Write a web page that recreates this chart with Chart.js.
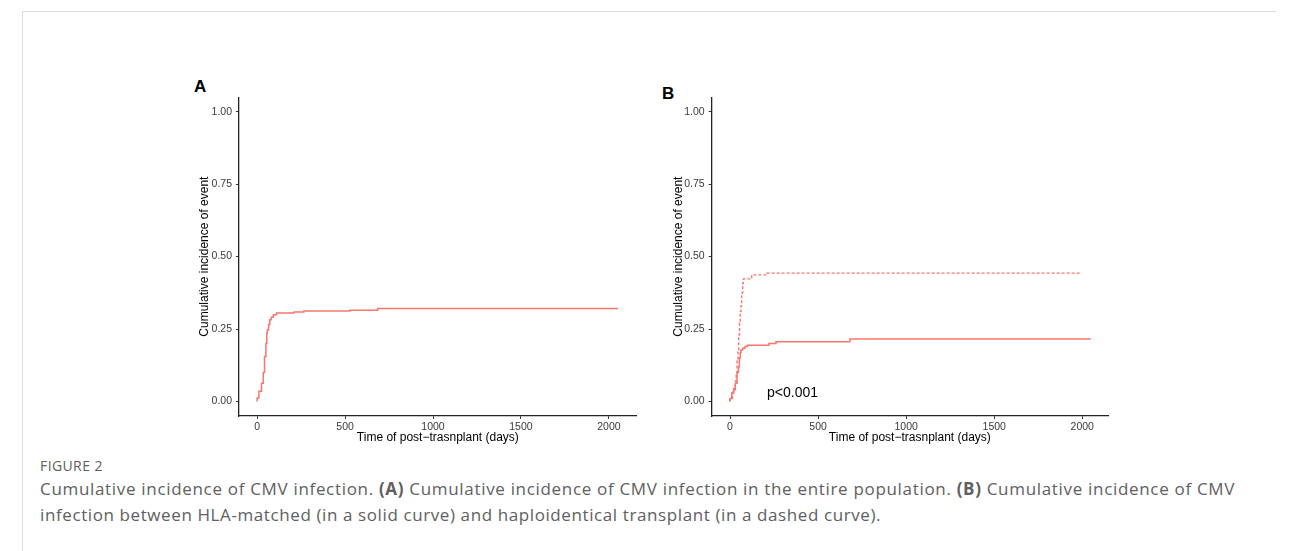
<!DOCTYPE html>
<html><head><meta charset="utf-8">
<script src="https://cdn.jsdelivr.net/npm/chart.js@4.4.0/dist/chart.umd.min.js"></script>
<style>
body{margin:0;width:1292px;height:551px;background:#fff;position:relative;overflow:hidden;font-family:"Liberation Sans",Arial,sans-serif;}
.box{position:absolute;}
.plbl{position:absolute;font-weight:bold;font-size:17px;color:#000;line-height:1;}
.cap{position:absolute;left:40px;font-family:"Open Sans",sans-serif;color:#606060;white-space:nowrap;}
</style></head><body>
<div style="position:absolute;left:22px;top:11px;width:1254px;height:1px;background:#dcdcdc"></div>
<div style="position:absolute;left:22px;top:11px;width:1px;height:540px;background:#dcdcdc"></div>
<div class="plbl" style="left:194px;top:78px">A</div>
<div class="plbl" style="left:662px;top:85px">B</div>
<div class="box" style="left:180px;top:70px;width:470px;height:380px"><canvas id="cA" width="470" height="380"></canvas></div>
<div class="box" style="left:652px;top:70px;width:470px;height:380px"><canvas id="cB" width="470" height="380"></canvas></div>
<div style="position:absolute;left:767px;top:385px;font-size:14px;color:#000;line-height:1">p&lt;0.001</div>
<div class="cap" style="top:456px;font-size:14px;letter-spacing:0.4px">FIGURE 2</div>
<div class="cap" style="top:477px;font-size:17px;letter-spacing:0.68px">Cumulative incidence of CMV infection. <b>(A)</b> Cumulative incidence of CMV infection in the entire population. <b>(B)</b> Cumulative incidence of CMV</div>
<div class="cap" style="top:503px;font-size:17px;letter-spacing:0.6px">infection between HLA-matched (in a solid curve) and haploidentical transplant (in a dashed curve).</div>
<script>
// ---- data ----
const xTicks = [0, 500, 1000, 1500, 2000];
const yTicks = [0, 0.25, 0.5, 0.75, 1.0];
const xTitle = "Time of post\u2212trasnplant (days)";
const yTitle = "Cumulative incidence of event";

// Panel A: entire population
const timesAll = [0, 10, 25, 35, 42, 50, 55, 58, 65, 72, 80, 92, 110, 210, 266, 527, 685, 1410, 2052];
const incAll   = [0, 0.012, 0.035, 0.063, 0.10, 0.155, 0.20, 0.236, 0.247, 0.265, 0.282, 0.291, 0.299, 0.305, 0.309, 0.312, 0.315, 0.321, 0.321];

// Panel B: HLA-matched (solid)
const timesMatched = [0, 10, 21, 30, 40, 48, 53, 58, 62, 72, 85, 98, 221, 261, 681, 1406, 2048];
const incMatched   = [0, 0.01, 0.029, 0.045, 0.063, 0.10, 0.12, 0.15, 0.167, 0.178, 0.184, 0.19, 0.194, 0.20, 0.206, 0.216, 0.216];

// Panel B: haploidentical (dashed)
const timesHaplo = [0, 15, 30, 35, 40, 45, 49, 54, 58, 62, 66, 72, 76, 123, 208, 520, 1990];
const incHaplo   = [0, 0.012, 0.04, 0.07, 0.098, 0.14, 0.178, 0.23, 0.27, 0.31, 0.33, 0.374, 0.408, 0.423, 0.437, 0.443, 0.443];

const lineColor = '#F8766D';
Chart.defaults.font.family = '"Liberation Sans", Arial, sans-serif';

function pts(t, v){ return t.map((x,i)=>({x:x, y:v[i]})); }

function makeChart(id, datasets, xmin, xmax, yAxisW, padR, yTitlePad){
  return new Chart(document.getElementById(id), {
    type: 'line',
    data: { datasets: datasets },
    options: {
      responsive: false, animation: false,
      layout: { padding: { left: 0, right: padR, top: 27.2, bottom: 0 } },
      plugins: { legend: { display: false }, tooltip: { enabled: false } },
      elements: { point: { radius: 0 } },
      scales: {
        x: {
          type: 'linear', min: xmin, max: xmax,
          afterFit: s => { s.height = 34; },
          afterBuildTicks: s => { s.ticks = xTicks.map(v => ({ value: v })); },
          ticks: { font: { size: 10.5 }, color: '#3a3a3a', padding: 1.5, maxRotation: 0, callback: v => String(v) },
          grid: { display: true, drawOnChartArea: false, drawTicks: true, tickLength: 3, color: '#333' },
          border: { display: true, color: '#222', width: 1.3 },
          title: { display: true, text: xTitle, color: '#000', font: { size: 12 }, padding: { top: 0, bottom: 5.5 } }
        },
        y: {
          type: 'linear', min: -0.05, max: 1.05,
          afterFit: s => { s.width = yAxisW; },
          afterBuildTicks: s => { s.ticks = yTicks.map(v => ({ value: v })); },
          ticks: { font: { size: 10.5 }, color: '#3a3a3a', padding: 4, callback: v => Number(v).toFixed(2) },
          grid: { display: true, drawOnChartArea: false, drawTicks: true, tickLength: 3, color: '#333' },
          border: { display: true, color: '#222', width: 1.3 },
          title: { display: true, text: yTitle, color: '#000', font: { size: 12 }, padding: { top: yTitlePad, bottom: 0 } }
        }
      }
    }
  });
}

makeChart('cA', [
  { data: pts(timesAll, incAll), borderColor: lineColor, borderWidth: 1.5, stepped: 'after', fill: false }
], -103, 2158, 59, 13.3, 17.8);

makeChart('cB', [
  { data: pts(timesHaplo, incHaplo), borderColor: lineColor, borderWidth: 1.4, borderDash: [3, 2], stepped: 'after', fill: false },
  { data: pts(timesMatched, incMatched), borderColor: lineColor, borderWidth: 1.5, stepped: 'after', fill: false }
], -104, 2146, 59.7, 14, 19.8);
</script>
</body></html>
